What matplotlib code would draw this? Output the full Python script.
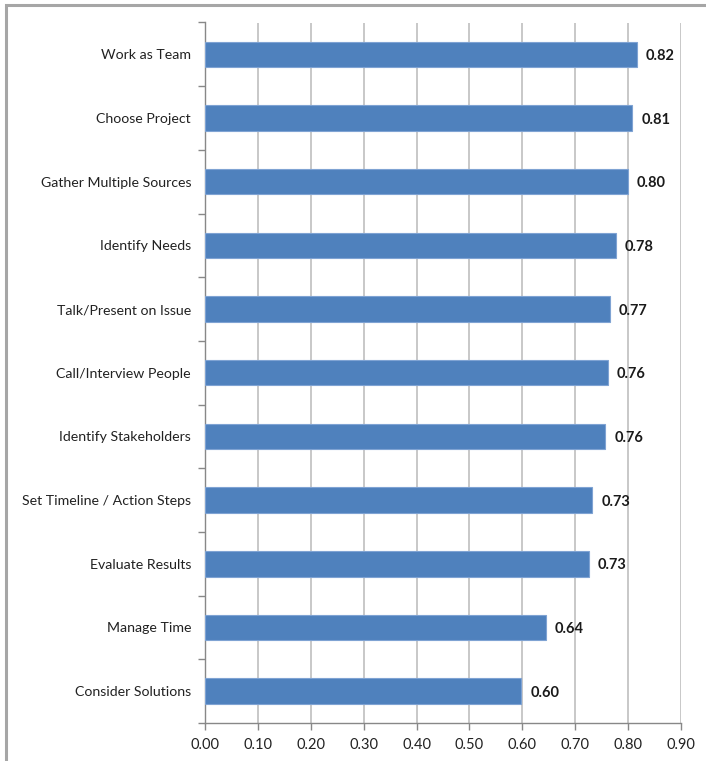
import matplotlib.pyplot as plt
from matplotlib.patches import Rectangle
from matplotlib.ticker import FixedLocator

plt.rcParams['font.family'] = ['Lato', 'DejaVu Sans']

categories = [
    "Work as Team",
    "Choose Project",
    "Gather Multiple Sources",
    "Identify Needs",
    "Talk/Present on Issue",
    "Call/Interview People",
    "Identify Stakeholders",
    "Set Timeline / Action Steps",
    "Evaluate Results",
    "Manage Time",
    "Consider Solutions",
]
values = [0.817, 0.808, 0.799, 0.777, 0.766, 0.762, 0.757, 0.732, 0.726, 0.644, 0.598]
x_ticks = [0.0, 0.1, 0.2, 0.3, 0.4, 0.5, 0.6, 0.7, 0.8, 0.9]

W, H = 706, 761
fig = plt.figure(figsize=(W / 100, H / 100), dpi=100)

# outer chart border (top and left edges visible)
fig.patches.append(Rectangle((6 / W, -0.02), 1.1, 1 - 5 / H + 0.02,
                             transform=fig.transFigure, fill=False,
                             edgecolor='#A6A6A6', linewidth=2.2))

ax = fig.add_axes([205 / W, 1 - 723 / H, (681 - 205) / W, (723 - 22.5) / H])

n = len(categories)
ypos = list(range(n))
ax.barh(ypos, values, height=0.4, color='#4F81BD', edgecolor='#7FA3D3',
        linewidth=0.8, zorder=3)

for y, v in zip(ypos, values):
    ax.text(v + 0.017, y, f"{v:.2f}", va='center_baseline', ha='left',
            fontsize=10.5, fontweight='bold', color='#1a1a1a')

ax.set_xlim(0, 0.9)
ax.set_ylim(n - 0.5, -0.5)
ax.set_xticks(x_ticks)
ax.set_xticklabels([f"{t:.2f}" for t in x_ticks], fontsize=10.5, color='#222222')
ax.set_yticks(ypos)
ax.set_yticklabels(categories, fontsize=10.2, color='#222222', va='center_baseline')
ax.yaxis.set_minor_locator(FixedLocator([i - 0.5 for i in range(n + 1)]))
ax.tick_params(axis='y', which='major', length=0, pad=10)
ax.tick_params(axis='y', which='minor', length=5, width=1, color='#888888')
ax.tick_params(axis='x', which='major', length=5, width=1, color='#888888', pad=6)

ax.grid(axis='x', color='#BFBFBF', linewidth=1.2, zorder=0)
for side in ['top', 'right']:
    ax.spines[side].set_visible(False)
for side in ['left', 'bottom']:
    ax.spines[side].set_color('#888888')
    ax.spines[side].set_linewidth(1)

fig.savefig('out.png', dpi=100)
